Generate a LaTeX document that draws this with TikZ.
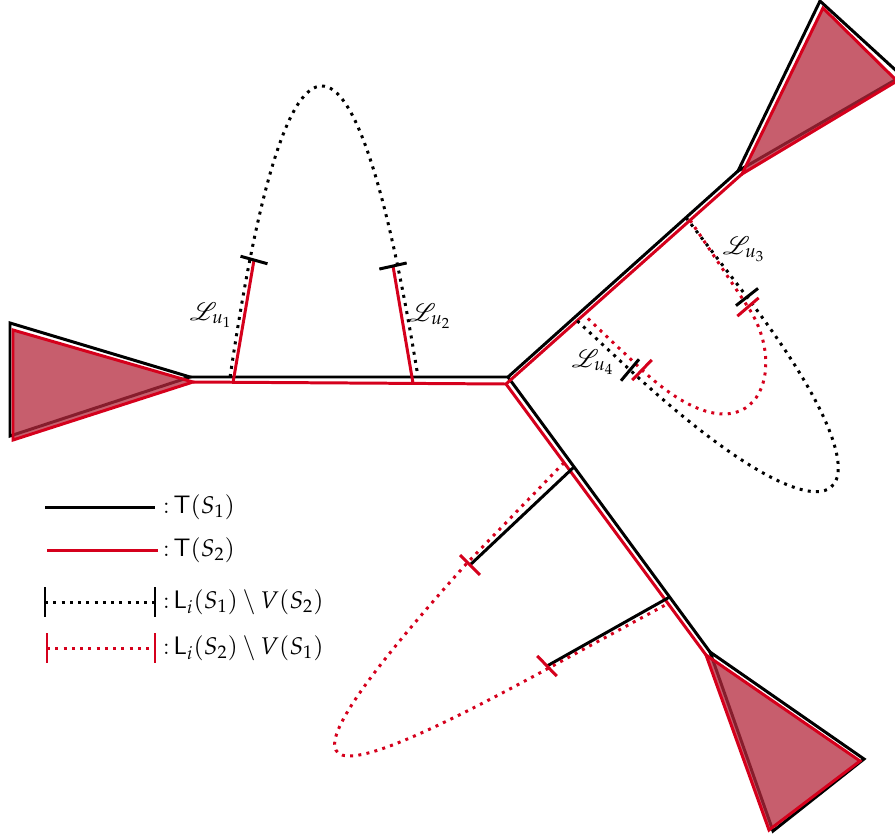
\documentclass[tikz,border=0pt]{standalone}
\usepackage{mathpazo}
\usepackage{mathrsfs}
\usepackage{tikz}
\usetikzlibrary{calc}

\definecolor{treered}{RGB}{213,0,28}
\definecolor{leaffill}{RGB}{180,40,60}

\begin{document}
\begin{tikzpicture}[
  blk/.style={line width=1.7pt, draw=black},
  rd/.style={line width=1.7pt, draw=treered},
  blkdot/.style={line width=1.7pt, draw=black, dash pattern=on 1.7pt off 3pt},
  rddot/.style={line width=1.7pt, draw=treered, dash pattern=on 1.7pt off 3pt},
  blkbar/.style={line width=1.7pt, draw=black},
  rdbar/.style={line width=1.7pt, draw=treered},
  leafr/.style={line width=1.7pt, draw=treered, fill=leaffill, fill opacity=0.75},
  lbl/.style={font=\fontsize{14}{16}\selectfont, inner sep=1pt},
  key/.style={anchor=west, font=\fontsize{13.7}{16}\selectfont, inner sep=1pt}
]
  \useasboundingbox (0,0) rectangle (17.9,-16.74);

  % tree of S_1
  \coordinate (lt1)    at (0.2,-6.46);
  \coordinate (lt2)    at (0.2,-8.72);
  \coordinate (hubL)   at (3.8,-7.54);
  \coordinate (hubC)   at (10.16,-7.54);
  \coordinate (leafUR) at (14.76,-3.42);
  \coordinate (urt1)   at (16.4,-0.02);
  \coordinate (urt2)   at (18.04,-1.52);
  \coordinate (leafLR) at (14.2,-13.04);
  \coordinate (lrt1)   at (17.28,-15.18);
  \coordinate (lrt2)   at (15.46,-16.62);

  % tree of S_2
  \coordinate (lt1r)    at (0.26,-6.6);
  \coordinate (lt2r)    at (0.26,-8.8);
  \coordinate (hubLr)   at (3.86,-7.64);
  \coordinate (hubCr)   at (10.12,-7.68);
  \coordinate (leafURr) at (14.84,-3.48);
  \coordinate (urt1r)   at (16.46,-0.16);
  \coordinate (urt2r)   at (17.94,-1.62);
  \coordinate (leafLRr) at (14.12,-13.1);
  \coordinate (lrt1r)   at (17.2,-15.22);
  \coordinate (lrt2r)   at (15.38,-16.6);

  \draw[blk] (lt1) -- (hubL) -- (lt2) -- cycle;
  \draw[blk] (leafUR) -- (urt1) -- (urt2) -- cycle;
  \draw[blk] (leafLR) -- (lrt1) -- (lrt2) -- cycle;
  \draw[blk] (hubL) -- (hubC) -- (leafUR);
  \draw[blk] (hubC) -- (leafLR);

  \filldraw[leafr] (lt1r) -- (hubLr) -- (lt2r) -- cycle;
  \filldraw[leafr] (leafURr) -- (urt1r) -- (urt2r) -- cycle;
  \filldraw[leafr] (leafLRr) -- (lrt1r) -- (lrt2r) -- cycle;
  \draw[rd] (hubLr) -- (hubCr) -- (leafURr);
  \draw[rd] (hubCr) -- (leafLRr);

  % L_{u_1}, L_{u_2}
  \coordinate (B1) at ($(hubL)!0.126!(hubC)$);
  \coordinate (R1) at ($(hubLr)!0.128!(hubCr)$);
  \coordinate (B2) at ($(hubL)!0.717!(hubC)$);
  \coordinate (R2) at ($(hubLr)!0.703!(hubCr)$);
  \coordinate (T1) at (5.08,-5.2);
  \coordinate (T2) at (7.86,-5.32);
  \draw[blkdot] (B1) .. controls (5.74,0.22) and (7.1,0.22) .. (B2);
  \draw[rd] (R1) -- (T1);
  \draw[rd] (R2) -- (T2);
  \draw[blkbar] (T1) ++(-15.6:0.28) -- ++(164.4:0.56);
  \draw[blkbar] (T2) ++(12.5:0.28) -- ++(192.5:0.56);
  \node[lbl] (lu1) at (4.22,-6.3) {$\mathscr{L}_{u_1}$};
  \node[lbl] (lu2) at (8.6,-6.32) {$\mathscr{L}_{u_2}$};

  % L_{u_3}, L_{u_4}
  \coordinate (B3) at ($(hubC)!0.774!(leafUR)$);
  \coordinate (R3) at ($(hubCr)!0.78!(leafURr)$);
  \coordinate (B4) at ($(hubC)!0.287!(leafUR)$);
  \coordinate (R4) at ($(hubCr)!0.33!(leafURr)$);
  \coordinate (T3b) at (14.94,-5.94);
  \coordinate (T3r) at (14.96,-6.14);
  \coordinate (T4b) at (12.6,-7.4);
  \coordinate (T4r) at (12.84,-7.4);
  \draw[blkdot] (B3) -- (T3b) .. controls (18.22,-10.24) and (16.86,-11.34) .. (T4b) -- (B4);
  \draw[rddot] (R3) -- (T3r) .. controls (15.85,-7.47) and (15.04,-9.44) .. (T4r) -- (R4);
  \draw[blkbar] (T3b) ++(38:0.28) -- ++(218:0.56);
  \draw[rdbar] (T3r) ++(40.6:0.28) -- ++(220.6:0.56);
  \draw[blkbar] (T4b) ++(50:0.28) -- ++(230:0.56);
  \draw[rdbar] (T4r) ++(46:0.28) -- ++(226:0.56);
  \node[lbl] (lu3) at (14.88,-4.98) {$\mathscr{L}_{u_3}$};
  \node[lbl] (lu4) at (11.86,-7.24) {$\mathscr{L}_{u_4}$};

  % lower loop of S_2
  \coordinate (D1)  at ($(hubC)!0.327!(leafLR)$);
  \coordinate (Dr1) at ($(hubCr)!0.29!(leafLRr)$);
  \coordinate (D2)  at ($(hubC)!0.80!(leafLR)$);
  \coordinate (Dr2) at ($(hubCr)!0.81!(leafLRr)$);
  \coordinate (T5)  at (9.4,-11.3);
  \coordinate (T5r) at (9.36,-11.24);
  \coordinate (T6)  at (10.94,-13.32);
  \coordinate (T6r) at (10.94,-13.38);
  \draw[blk] (D1) -- (T5);
  \draw[blk] (D2) -- (T6);
  \draw[rddot] (Dr1) -- (T5r) .. controls (5.08,-16.0) and (6.2,-15.96) .. (T6r) -- (Dr2);
  \draw[rdbar] (T5) ++(-45:0.28) -- ++(135:0.56);
  \draw[rdbar] (T6) ++(-46:0.28) -- ++(134:0.56);

  % legend
  \coordinate (k1a) at (0.9,-10.14);  \coordinate (k1b) at (3.1,-10.14);
  \coordinate (k2a) at (0.94,-11.0);  \coordinate (k2b) at (3.16,-11.0);
  \coordinate (k3a) at (0.9,-12.04);  \coordinate (k3b) at (3.1,-12.04);
  \coordinate (k4a) at (0.94,-12.96); \coordinate (k4b) at (3.1,-12.96);
  \draw[blk] (k1a) -- (k1b);
  \draw[rd] (k2a) -- (k2b);
  \draw[blkdot] (k3a) -- (k3b);
  \draw[blkbar] (k3a) ++(0,0.3) -- ++(0,-0.6);
  \draw[blkbar] (k3b) ++(0,0.3) -- ++(0,-0.6);
  \draw[rddot] (k4a) -- (k4b);
  \draw[rdbar] (k4a) ++(0,0.3) -- ++(0,-0.6);
  \draw[rdbar] (k4b) ++(0,0.3) -- ++(0,-0.6);
  \node[key] (k1t) at (3.22,-10.14) {:\,$\mathsf{T}(S_1)$};
  \node[key] (k2t) at (3.22,-11.0) {:\,$\mathsf{T}(S_2)$};
  \node[key] (k3t) at (3.22,-12.04) {:\,$\mathsf{L}_i(S_1)\setminus V(S_2)$};
  \node[key] (k4t) at (3.22,-12.96) {:\,$\mathsf{L}_i(S_2)\setminus V(S_1)$};
\end{tikzpicture}
\end{document}
